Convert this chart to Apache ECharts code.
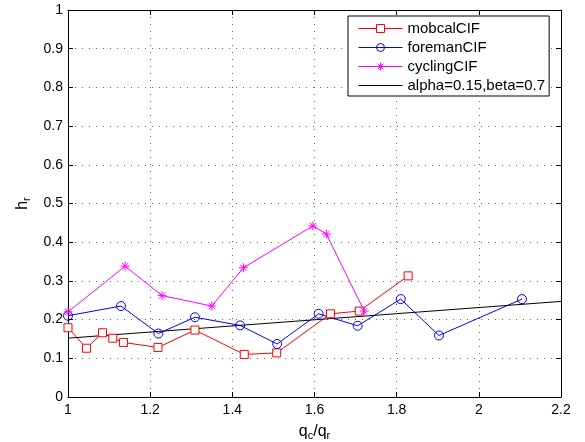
<!DOCTYPE html>
<html>
<head>
<meta charset="utf-8">
<script src="https://cdn.jsdelivr.net/npm/echarts@6/dist/echarts.min.js"></script>
<style>
  html, body { margin: 0; padding: 0; background: #fff; }
  #chart { width: 585px; height: 442px; }
</style>
</head>
<body>
<div id="chart"></div>
<script>
// values, [q_c/q_r, h_r]
var mobcalData = [[1.0, 0.179], [1.045, 0.126], [1.084, 0.166], [1.109, 0.152], [1.135, 0.141],
  [1.219, 0.128], [1.309, 0.173], [1.429, 0.110], [1.508, 0.114], [1.639, 0.215],
  [1.709, 0.222], [1.828, 0.313]];
var foremanData = [[1.0, 0.210], [1.129, 0.235], [1.220, 0.164], [1.309, 0.206], [1.419, 0.185],
  [1.509, 0.137], [1.610, 0.215], [1.705, 0.184], [1.810, 0.253], [1.903, 0.159], [2.105, 0.253]];
var cyclingData = [[1.0, 0.220], [1.139, 0.338], [1.229, 0.262], [1.350, 0.235], [1.427, 0.334],
  [1.596, 0.442], [1.629, 0.421], [1.721, 0.222]];
var modelData = [[1.0, 0.152], [2.2, 0.247]];
var seriesNames = ['mobcalCIF', 'foremanCIF', 'cyclingCIF', 'alpha=0.15,beta=0.7'];

var font = 'Liberation Sans, Arial, sans-serif';
// asterisk marker, drawn as strokes only
var starPath = 'path://M5,0L5,10M0,5L10,5M1.5,1.5L8.5,8.5M8.5,1.5L1.5,8.5';

var chart = echarts.init(document.getElementById('chart'));

// plain axis for the top / right side of the box
function frameAxis(pos, isX) {
  return {
    type: 'value',
    position: pos,
    min: isX ? 1 : 0,
    max: isX ? 2.2 : 1,
    interval: isX ? 0.2 : 0.1,
    axisLine: { show: true, onZero: false, lineStyle: { color: '#000', width: 1 } },
    axisTick: { show: true, inside: true, length: 5, lineStyle: { color: '#000' } },
    axisLabel: { show: false },
    splitLine: { show: false }
  };
}

var nameRich = {
  a: { fontFamily: font, fontSize: 16, color: '#000', lineHeight: 18 },
  s: { fontFamily: font, fontSize: 11, color: '#000', lineHeight: 18, padding: [9, 0, 0, 0] }
};
var tickFmt = function (v) { return String(+v.toFixed(1)); };
var gridLine = { show: true, lineStyle: { color: '#666', type: [1, 6], width: 1 } };

chart.setOption({
  animation: false,
  backgroundColor: '#fff',
  textStyle: { fontFamily: font },
  grid: { left: 68, right: 24, top: 10, bottom: 45, outerBoundsMode: 'none' },
  legend: {
    orient: 'vertical',
    left: 348,
    top: 16,
    data: [seriesNames[0], seriesNames[1], seriesNames[2],
      { name: seriesNames[3], itemStyle: { opacity: 0 } }],
    itemWidth: 44,
    itemHeight: 10,
    itemGap: 4,
    padding: [5, 4, 3, 10],
    borderColor: '#000',
    borderWidth: 1,
    backgroundColor: '#fff',
    itemStyle: { borderWidth: 1 },
    lineStyle: { width: 1 },
    textStyle: { fontFamily: font, fontSize: 15, color: '#000' }
  },
  xAxis: [{
    type: 'value',
    min: 1, max: 2.2, interval: 0.2,
    name: '{a|q}{s|c}{a|/q}{s|r}',
    nameLocation: 'middle',
    nameGap: 12,
    nameTextStyle: { rich: nameRich },
    axisLine: { onZero: false, lineStyle: { color: '#000' } },
    axisTick: { inside: true, length: 5, lineStyle: { color: '#000' } },
    axisLabel: { color: '#000', fontSize: 14, fontFamily: font, margin: 6, formatter: tickFmt },
    splitLine: gridLine
  }, frameAxis('top', true)],
  yAxis: [{
    type: 'value',
    min: 0, max: 1, interval: 0.1,
    name: '{a|h}{s|r}',
    nameLocation: 'middle',
    nameGap: 26,
    nameTextStyle: { rich: nameRich },
    axisLine: { onZero: false, lineStyle: { color: '#000' } },
    axisTick: { inside: true, length: 5, lineStyle: { color: '#000' } },
    axisLabel: { color: '#000', fontSize: 14, fontFamily: font, margin: 5, formatter: tickFmt },
    splitLine: gridLine
  }, frameAxis('right', false)],
  series: [
    {
      name: seriesNames[0], type: 'line', data: mobcalData,
      symbol: 'rect', symbolSize: 8,
      lineStyle: { color: '#ff0000', width: 1 },
      itemStyle: { color: '#fff', borderColor: '#ff0000', borderWidth: 1 }
    },
    {
      name: seriesNames[1], type: 'line', data: foremanData,
      symbol: 'circle', symbolSize: 9,
      lineStyle: { color: '#0000ff', width: 1 },
      itemStyle: { color: 'rgba(255,255,255,0)', borderColor: '#0000ff', borderWidth: 1 }
    },
    {
      name: seriesNames[2], type: 'line', data: cyclingData,
      symbol: starPath, symbolSize: 9,
      lineStyle: { color: '#ff00ff', width: 1 },
      itemStyle: { color: '#ff00ff', borderColor: '#ff00ff', borderWidth: 1 }
    },
    {
      name: seriesNames[3], type: 'line', data: modelData,
      symbol: 'none',
      lineStyle: { color: '#000', width: 1 },
      itemStyle: { color: '#000' }
    }
  ]
});
</script>
</body>
</html>
